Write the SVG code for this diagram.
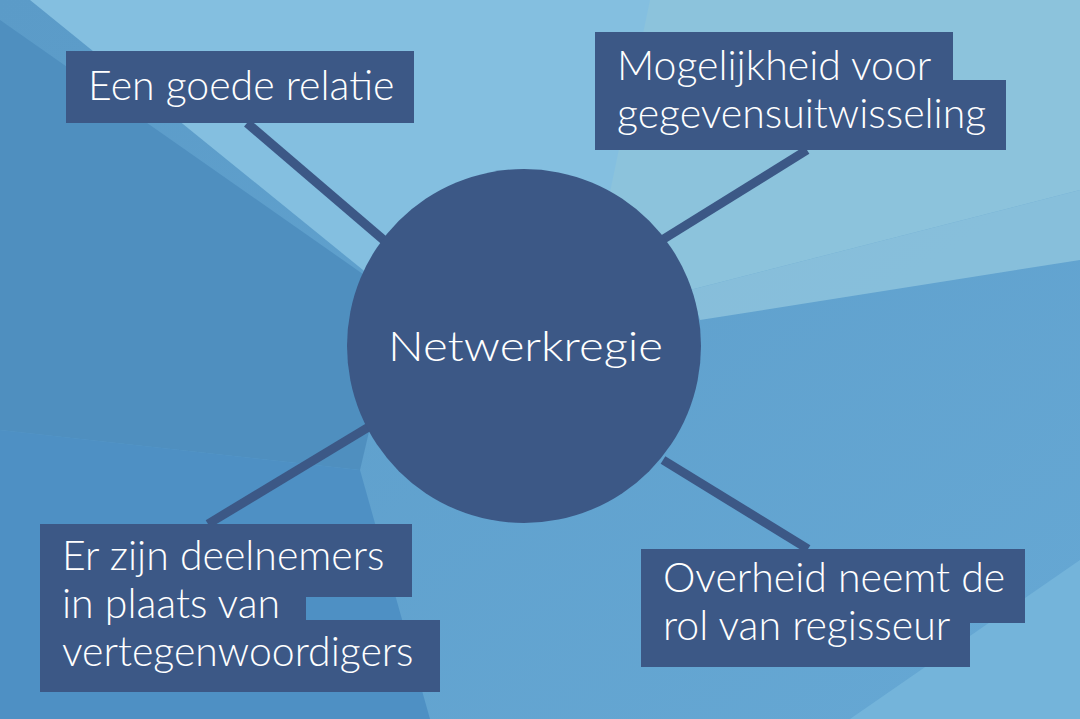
<svg xmlns="http://www.w3.org/2000/svg" width="1080" height="719" viewBox="0 0 1080 719">
<style>
.box{fill:#3c5886}
.t{font-family:Lato,"Open Sans",sans-serif;font-weight:300;fill:#fff;font-size:41px}
.c{stroke:#3c5886;stroke-width:9;fill:none}
</style>
<defs>
<linearGradient id="bg" x1="0" y1="0" x2="1" y2="1">
<stop offset="0" stop-color="#5b9bc8"/><stop offset="1" stop-color="#66a8d4"/>
</linearGradient>
</defs>
<g id="background">
<rect width="1080" height="719" fill="url(#bg)"/>
<polygon points="30,0 700,0 600,240 400,300" fill="#84bfe0"/>
<polygon points="650,0 1080,0 1080,190 690,290 600,240" fill="#8cc3dc"/>
<polygon points="690,290 1080,190 1080,260 700,320" fill="#97cbe0" opacity="0.7"/>
<polygon points="0,20 400,300 360,470 0,430" fill="#4f8fbf"/>
<polygon points="0,430 360,470 430,719 0,719" fill="#4e90c4"/>
<polygon points="850,719 1080,560 1080,719" fill="#74b4da"/>
</g>
<g id="connectors">
<line class="c" x1="247" y1="123" x2="386" y2="242"/>
<line class="c" x1="807" y1="150" x2="662" y2="240"/>
<line class="c" x1="208" y1="524" x2="372" y2="425"/>
<line class="c" x1="663" y1="460" x2="808" y2="549"/>
</g>
<g id="center">
<circle cx="524" cy="346" r="177" fill="#3c5886"/>
<text class="t" x="388" y="361" font-size="54" textLength="275" lengthAdjust="spacingAndGlyphs">Netwerkregie</text>
</g>
<g id="n1">
<rect class="box" x="66" y="51" width="348" height="72"/>
<text class="t" x="88" y="100">Een goede relatie</text>
</g>
<g id="n2">
<rect class="box" x="595" y="32" width="358" height="60"/>
<rect class="box" x="595" y="80" width="411" height="70"/>
<text class="t" x="617" y="80">Mogelijkheid voor</text>
<text class="t" x="617" y="128">gegevensuitwisseling</text>
</g>
<g id="n3">
<rect class="box" x="40" y="524" width="372" height="73"/>
<rect class="box" x="40" y="596" width="266" height="25"/>
<rect class="box" x="40" y="620" width="400" height="72"/>
<text class="t" x="62" y="570">Er zijn deelnemers</text>
<text class="t" x="62" y="618">in plaats van</text>
<text class="t" x="62" y="666">vertegenwoordigers</text>
</g>
<g id="n4">
<rect class="box" x="641" y="549" width="384" height="74"/>
<rect class="box" x="641" y="622" width="329" height="45"/>
<text class="t" x="663" y="592">Overheid neemt de</text>
<text class="t" x="663" y="640">rol van regisseur</text>
</g>
</svg>
